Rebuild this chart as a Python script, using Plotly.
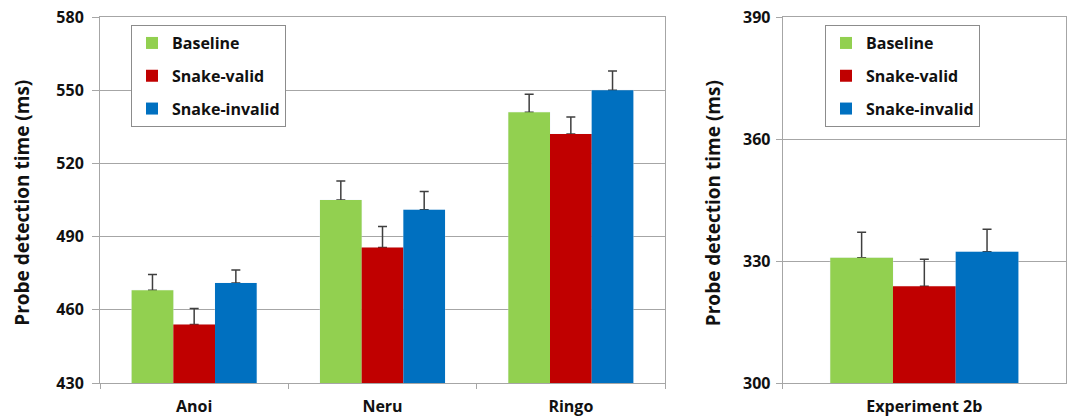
import plotly.graph_objects as go

# ---- data ----
conditions = ["Baseline", "Snake-valid", "Snake-invalid"]
colors = ["#92D050", "#C00000", "#0070C0"]

exp_a_categories = ["Anoi", "Neru", "Ringo"]
exp_a_baseline = [468, 505, 541]
exp_a_valid = [454, 485.5, 532]
exp_a_invalid = [471, 501, 550]
exp_a_baseline_err = [6.5, 7.8, 7.3]
exp_a_valid_err = [6.5, 8.6, 7.0]
exp_a_invalid_err = [5.3, 7.5, 7.9]

exp_b_categories = ["Experiment 2b"]
exp_b_baseline = [330.8]
exp_b_valid = [323.8]
exp_b_invalid = [332.3]
exp_b_baseline_err = [6.3]
exp_b_valid_err = [6.6]
exp_b_invalid_err = [5.5]

left_ticks = [430, 460, 490, 520, 550, 580]
right_ticks = [300, 330, 360, 390]

y_title = "Probe detection time (ms)"

# ---- figure ----
FONT = "Open Sans"
TXT = "#111111"
GRID = "#a6a6a6"
ERR = "#3f3f3f"

fig = go.Figure()

panels = [
    ("x", "y", "legend", exp_a_categories,
     [exp_a_baseline, exp_a_valid, exp_a_invalid],
     [exp_a_baseline_err, exp_a_valid_err, exp_a_invalid_err]),
    ("x2", "y2", "legend2", exp_b_categories,
     [exp_b_baseline, exp_b_valid, exp_b_invalid],
     [exp_b_baseline_err, exp_b_valid_err, exp_b_invalid_err]),
]

for xa, ya, leg, cats, vals, errs in panels:
    # transparent bars that carry the (plus-only) error bars, drawn first
    for i, cond in enumerate(conditions):
        fig.add_trace(go.Bar(
            x=cats, y=vals[i], xaxis=xa, yaxis=ya,
            offsetgroup=str(i), marker=dict(color="rgba(0,0,0,0)"),
            error_y=dict(type="data", symmetric=False, array=errs[i],
                         arrayminus=[0] * len(errs[i]),
                         color=ERR, thickness=1.5, width=4.5),
            showlegend=False, hoverinfo="skip",
        ))
    # visible bars on top
    for i, cond in enumerate(conditions):
        fig.add_trace(go.Bar(
            x=cats, y=vals[i], xaxis=xa, yaxis=ya, name=cond,
            offsetgroup=str(i), marker=dict(color=colors[i], line=dict(width=0)),
            legend=leg, legendgroup=leg + cond,
        ))

axis_common = dict(showline=True, linecolor=GRID, linewidth=1, mirror=True,
                   automargin=False,
                   tickfont=dict(family=FONT, size=16, color=TXT, weight="bold"))

legend_common = dict(xanchor="left", yanchor="top",
                     bgcolor="white", bordercolor="#8c8c8c", borderwidth=1,
                     font=dict(family=FONT, size=16, color=TXT, weight="bold"),
                     tracegroupgap=9, itemclick=False, itemwidth=30)

fig.update_layout(
    width=1071, height=420,
    margin=dict(l=100, r=5, t=17, b=37),
    paper_bgcolor="white", plot_bgcolor="white",
    barmode="group", bargap=0.336, bargroupgap=0,
    font=dict(family=FONT, color=TXT),
    xaxis=dict(domain=[0, 0.5849], anchor="y", ticks="outside", tickson="boundaries",
               ticklen=5, tickcolor=GRID, showgrid=False, ticklabelstandoff=9,
               **axis_common),
    xaxis2=dict(domain=[0.7067, 1], anchor="y2", ticks="outside", tickson="boundaries",
                ticklen=5, tickcolor=GRID, showgrid=False, ticklabelstandoff=9,
                **axis_common),
    yaxis=dict(range=[430, 580], tickvals=left_ticks, ticks="outside", ticklen=7,
               tickcolor=GRID, showgrid=True, gridcolor=GRID, gridwidth=1,
               ticklabelstandoff=5, zeroline=False, ticklabeloverflow="allow",
               **axis_common),
    yaxis2=dict(range=[300, 390], tickvals=right_ticks, ticks="outside", ticklen=6,
                tickcolor=GRID, showgrid=True, gridcolor=GRID, gridwidth=1,
                ticklabelstandoff=2, zeroline=False, anchor="x2",
                ticklabeloverflow="allow", **axis_common),
    legend=dict(x=0.0321, y=0.978, **legend_common),
    legend2=dict(x=0.7505, y=0.978, **legend_common),
    annotations=[
        dict(text=y_title, xref="paper", yref="paper", x=-0.0807, y=0.4925,
             textangle=-90, showarrow=False, xanchor="center", yanchor="middle",
             font=dict(family=FONT, size=19, color=TXT, weight="bold")),
        dict(text=y_title, xref="paper", yref="paper", x=0.634, y=0.4925,
             textangle=-90, showarrow=False, xanchor="center", yanchor="middle",
             font=dict(family=FONT, size=19, color=TXT, weight="bold")),
    ],
)

fig.write_html("out.html", config={"displayModeBar": False},
               post_script="document.body.style.margin='0';document.body.style.padding='0';")
